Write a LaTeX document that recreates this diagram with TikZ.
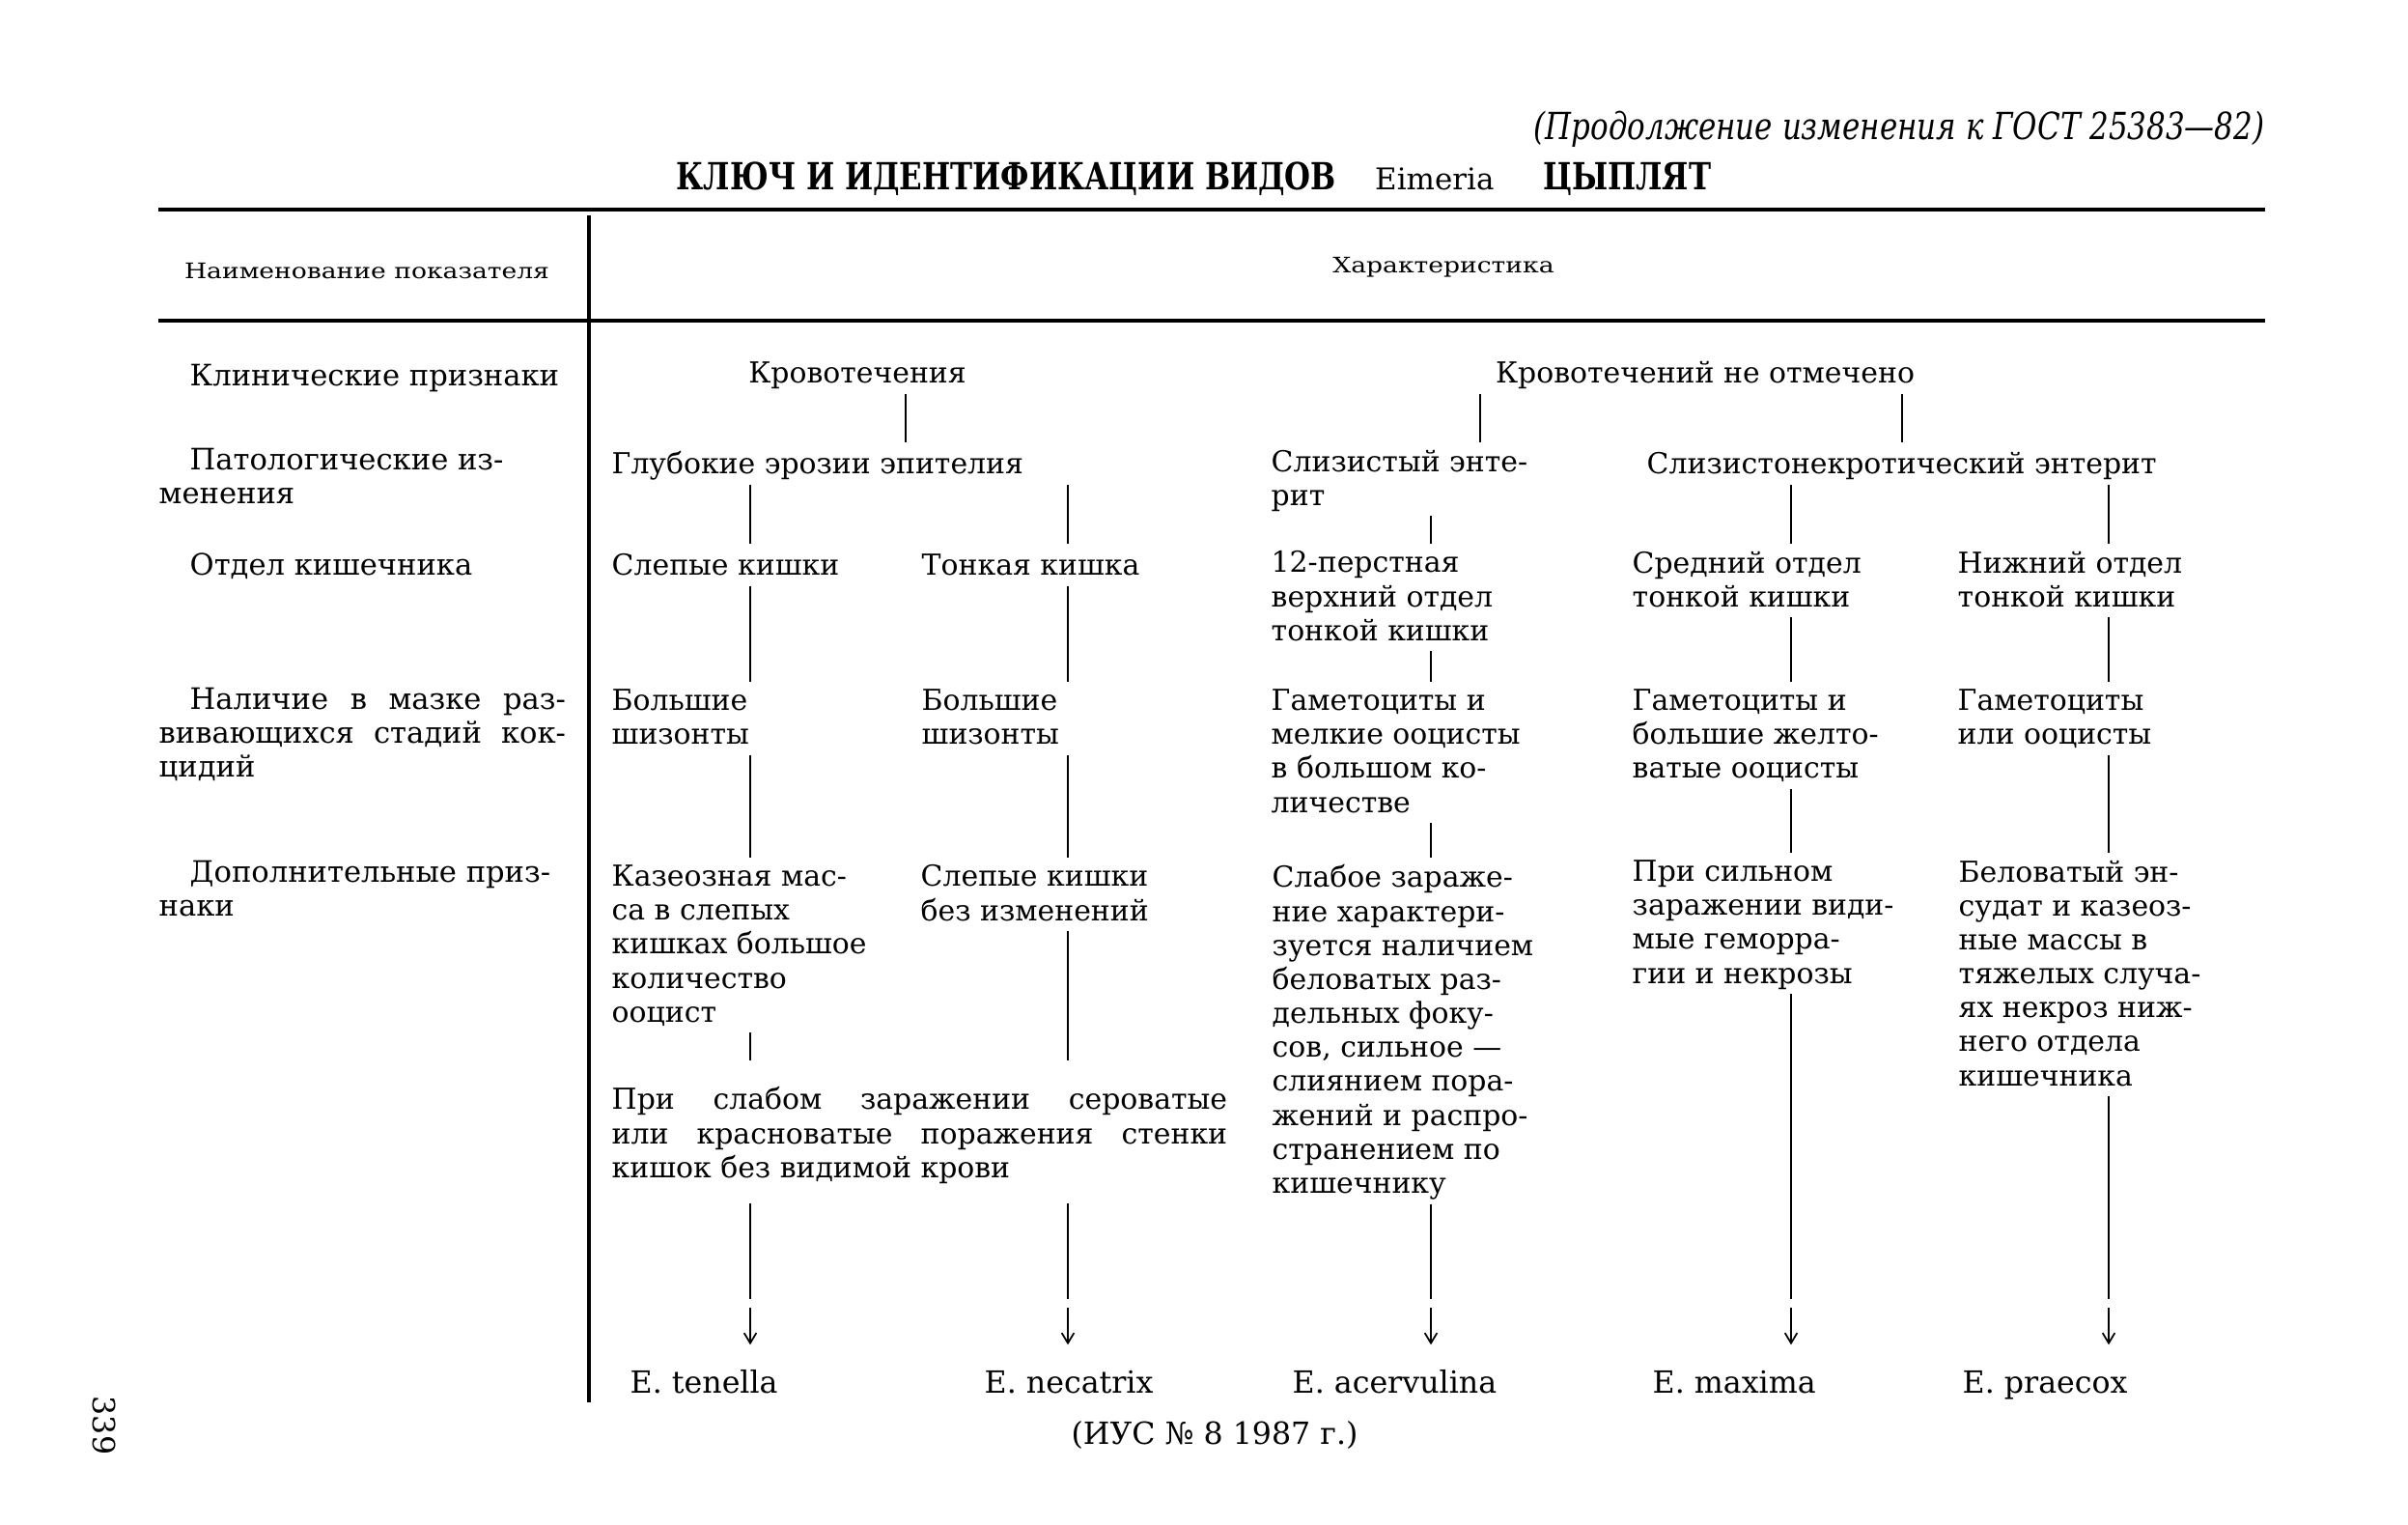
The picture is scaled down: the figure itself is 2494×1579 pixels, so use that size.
\documentclass[tikz,border=0pt]{standalone}
\usepackage{fontspec}
\setmainfont{DejaVu Serif}
\newfontfamily\narrowfont{DejaVu Serif}[FakeStretch=0.8]
\newfontfamily\widefont{DejaVu Serif}[FakeStretch=1.2]
\usepackage{tikz}
\usetikzlibrary{
    arrows.meta,
    positioning
}
\newcommand{\ind}{\hspace*{0.32cm}}
\newcommand{\fullline}[1]{\makebox[4.21cm][s]{#1}}
\tikzset{
    % text blocks of the key, hung from their top left corner
    keytext/.style={
        anchor=north west,
        inner sep=0pt,
        align=left,
        font=\fontsize{8.5}{10}\selectfont,
        execute at begin node=\strut,
        execute at end node=\strut,
    },
    % row names in the left column
    rowlabel/.style={
        keytext,
        font=\fontsize{8.7}{10}\selectfont,
    },
    % species names at the foot
    species/.style={
        keytext,
        font=\fontsize{9}{10}\selectfont,
    },
    % column heads of the table
    headcell/.style={
        inner sep=0pt,
        font=\widefont\fontsize{6.3}{8}\selectfont,
    },
    % bold parts of the title
    titlebold/.style={
        inner sep=0pt,
        font=\narrowfont\bfseries\fontsize{11}{13}\selectfont,
    },
    % plain vertical link
    link/.style={
        line width=0.8pt,
        shorten >=2pt,
    },
    % short arrow down to a species
    tip/.style={
        -{Straight Barb[length=3pt, width=3.6pt]},
        line width=0.5pt,
        shorten >=7pt,
    },
    % table rules
    rule/.style={
        line width=1.4pt,
    },
}

\begin{document}
\begin{tikzpicture}[x=0.01cm, y=-0.01cm]
    \useasboundingbox (0,0) rectangle (2494,1579);

    % heading
    \node[inner sep=0pt, anchor=base east, font=\narrowfont\itshape\fontsize{11}{13}\selectfont] (cont) at (2346,145) {(Продолжение изменения к ГОСТ 25383—82)};
    \node[titlebold, anchor=base west] (title) at (700,196) {КЛЮЧ И ИДЕНТИФИКАЦИИ ВИДОВ};
    \node[inner sep=0pt, font=\fontsize{8.8}{10}\selectfont, base right=11pt of title] (genus) {Eimeria};
    \node[titlebold, base right=14pt of genus] (host) {ЦЫПЛЯТ};

    % table frame
    \draw[rule] (164,217) -- (2346,217);
    \draw[rule] (164,332) -- (2346,332);
    \draw[line width=1pt] (610,223) -- (610,1452);
    \node[headcell] (hname) at (380,281) {Наименование показателя};
    \node[headcell] (hchar) at (1495,277) {Характеристика};

    % row names
    \node[rowlabel] (clin) at (164,374) {\ind Клинические признаки};
    \node[rowlabel] (patho) at (164,463) {\ind Патологические из-\\менения};
    \node[rowlabel] (sect) at (164,570) {\ind Отдел кишечника};
    \node[rowlabel] (smear) at (164,711) {\fullline{\ind Наличие в мазке раз-}\\\fullline{вивающихся стадий кок-}\\цидий};
    \node[rowlabel] (extra) at (164,890) {\ind Дополнительные приз-\\наки};

    % key
    \node[keytext, anchor=north] (bleed) at (888,371) {Кровотечения};
    \node[keytext, anchor=north] (nobleed) at (1766,371) {Кровотечений не отмечено};

    \node[keytext] (erosion) at (633,465) {Глубокие эрозии эпителия};
    \node[keytext] (mucous) at (1316,465) {Слизистый энте-\\рит};
    \node[keytext] (necrotic) at (1705,465) {Слизистонекротический энтерит};

    \node[keytext] (cecum) at (633,570) {Слепые кишки};
    \node[keytext] (smallint) at (954,570) {Тонкая кишка};
    \node[keytext] (duoden) at (1316,570) {12-перстная\\верхний отдел\\тонкой кишки};
    \node[keytext] (midint) at (1690,570) {Средний отдел\\тонкой кишки};
    \node[keytext] (lowint) at (2027,570) {Нижний отдел\\тонкой кишки};

    \node[keytext] (schizA) at (633,713) {Большие\\шизонты};
    \node[keytext] (schizB) at (954,713) {Большие\\шизонты};
    \node[keytext] (gamA) at (1316,713) {Гаметоциты и\\мелкие ооцисты\\в большом ко-\\личестве};
    \node[keytext] (gamB) at (1690,713) {Гаметоциты и\\большие желто-\\ватые ооцисты};
    \node[keytext] (gamC) at (2027,713) {Гаметоциты\\или ооцисты};

    \node[keytext] (caseous) at (633,895) {Казеозная мас-\\са в слепых\\кишках большое\\количество\\ооцист};
    \node[keytext] (nochange) at (953,895) {Слепые кишки\\без изменений};
    \node[keytext] (weak) at (1317,895) {Слабое зараже-\\ние характери-\\зуется наличием\\беловатых раз-\\дельных фоку-\\сов, сильное —\\слиянием пора-\\жений и распро-\\странением по\\кишечнику};
    \node[keytext] (strong) at (1690,890) {При сильном\\заражении види-\\мые геморра-\\гии и некрозы};
    \node[keytext] (exudate) at (2028,890) {Беловатый эн-\\судат и казеоз-\\ные массы в\\тяжелых случа-\\ях некроз ниж-\\него отдела\\кишечника};

    \node[keytext] (grey) at (633,1125) {\makebox[6.37cm][s]{При слабом заражении сероватые}\\\makebox[6.37cm][s]{или красноватые поражения стенки}\\кишок без видимой крови};

    \node[species] (tenella) at (652,1417) {E. tenella};
    \node[species] (necatrix) at (1019,1417) {E. necatrix};
    \node[species] (acervulina) at (1338,1417) {E. acervulina};
    \node[species] (maxima) at (1711,1417) {E. maxima};
    \node[species] (praecox) at (2032,1417) {E. praecox};

    \node[inner sep=0pt, anchor=base, font=\fontsize{9}{10}\selectfont] (ius) at (1258,1495) {(ИУС № 8 1987 г.)};
    \node[inner sep=0pt, rotate=-90, font=\fontsize{9}{10}\selectfont] (page) at (108,1476) {339};

    % columns of the links
    \coordinate (k0) at (938,0);
    \coordinate (k1) at (1533,0);
    \coordinate (k2) at (1970,0);
    \coordinate (c1) at (777,0);
    \coordinate (c2) at (1106,0);
    \coordinate (c3) at (1482,0);
    \coordinate (c4) at (1855,0);
    \coordinate (c5) at (2184,0);
    \coordinate (brk) at (0,1345);
    \coordinate (brk2) at (0,1354);

    \draw[link] (bleed.south -| k0) -- (erosion.north -| k0);
    \draw[link] (nobleed.south -| k1) -- (mucous.north -| k1);
    \draw[link] (nobleed.south -| k2) -- (necrotic.north -| k2);

    \draw[link] (erosion.south -| c1) -- (cecum.north -| c1);
    \draw[link] (erosion.south -| c2) -- (smallint.north -| c2);
    \draw[link] (mucous.south -| c3) -- (duoden.north -| c3);
    \draw[link] (necrotic.south -| c4) -- (midint.north -| c4);
    \draw[link] (necrotic.south -| c5) -- (lowint.north -| c5);

    \draw[link] (cecum.south -| c1) -- (schizA.north -| c1);
    \draw[link] (smallint.south -| c2) -- (schizB.north -| c2);
    \draw[link] (duoden.south -| c3) -- (gamA.north -| c3);
    \draw[link] (midint.south -| c4) -- (gamB.north -| c4);
    \draw[link] (lowint.south -| c5) -- (gamC.north -| c5);

    \draw[link] (schizA.south -| c1) -- (caseous.north -| c1);
    \draw[link] (schizB.south -| c2) -- (nochange.north -| c2);
    \draw[link] (gamA.south -| c3) -- (weak.north -| c3);
    \draw[link] (gamB.south -| c4) -- (strong.north -| c4);
    \draw[link] (gamC.south -| c5) -- (exudate.north -| c5);

    \draw[link, shorten >=7.7pt] (caseous.south -| c1) -- (grey.north -| c1);
    \draw[link, shorten >=7.7pt] (nochange.south -| c2) -- (grey.north -| c2);

    \draw[link, shorten >=0pt, shorten <=4.5pt] (grey.south -| c1) -- (brk -| c1);
    \draw[link, shorten >=0pt, shorten <=4.5pt] (grey.south -| c2) -- (brk -| c2);
    \draw[link, shorten >=0pt] (weak.south -| c3) -- (brk -| c3);
    \draw[link, shorten >=0pt] (strong.south -| c4) -- (brk -| c4);
    \draw[link, shorten >=0pt] (exudate.south -| c5) -- (brk -| c5);

    \draw[tip] (brk2 -| c1) -- (tenella.north -| c1);
    \draw[tip] (brk2 -| c2) -- (necatrix.north -| c2);
    \draw[tip] (brk2 -| c3) -- (acervulina.north -| c3);
    \draw[tip] (brk2 -| c4) -- (maxima.north -| c4);
    \draw[tip] (brk2 -| c5) -- (praecox.north -| c5);
\end{tikzpicture}
\end{document}
